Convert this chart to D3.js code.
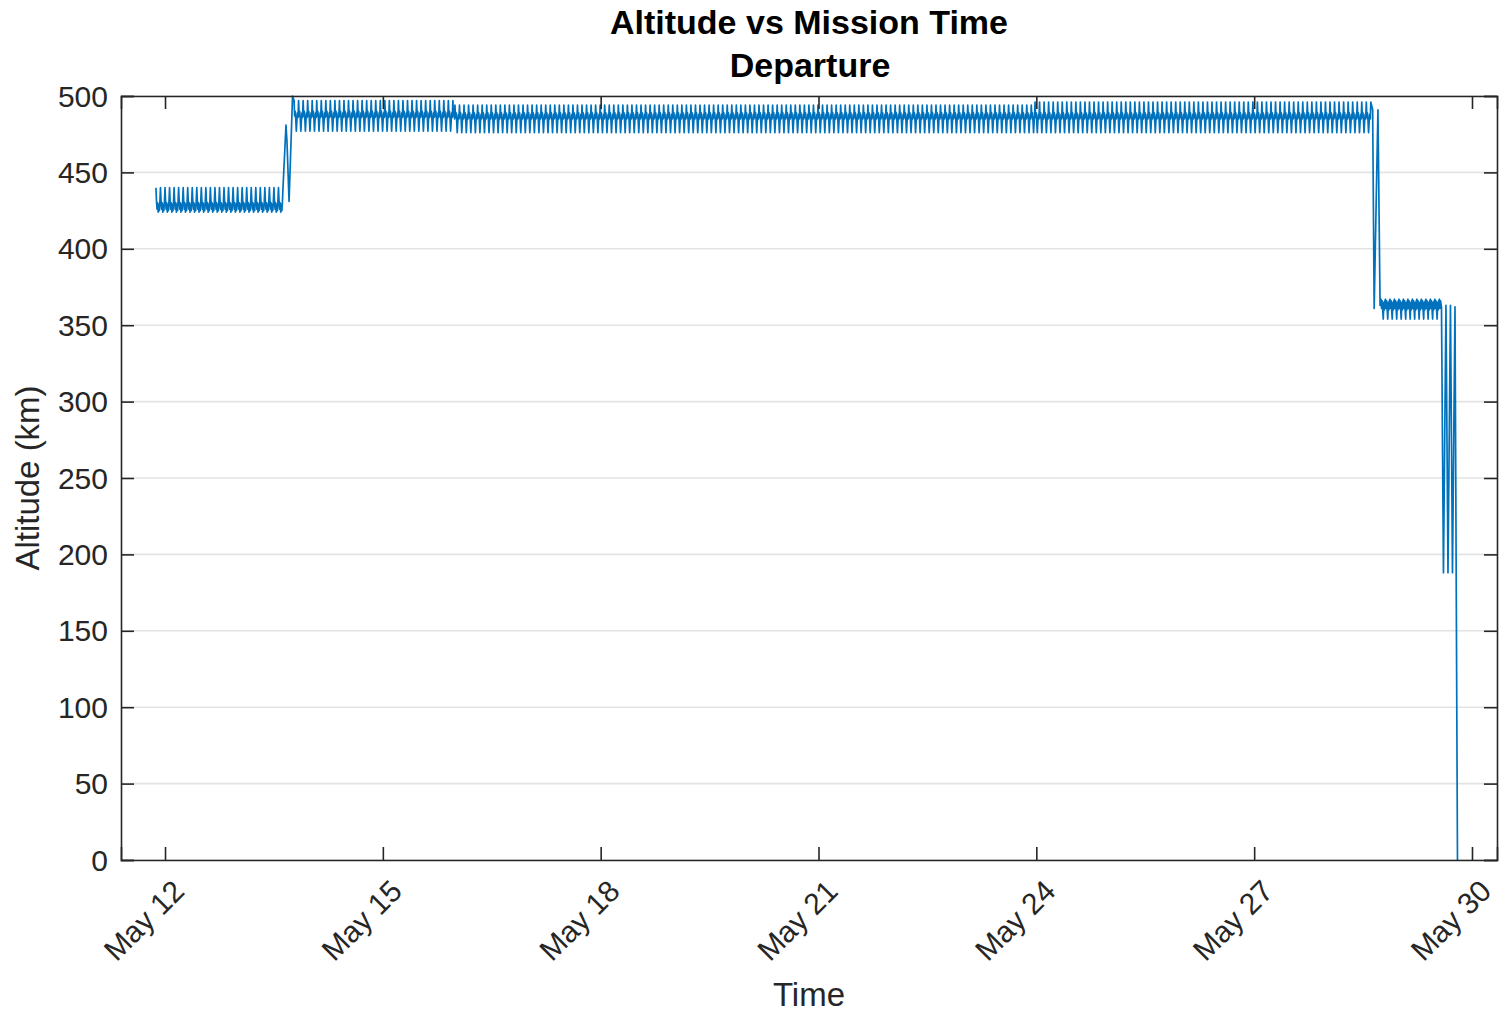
<!DOCTYPE html>
<html>
<head>
<meta charset="utf-8">
<script src="https://cdn.jsdelivr.net/npm/d3@7"></script>
<style>
  body { margin: 0; background: #fff; }
  text { font-family: Arial, "Liberation Sans", Helvetica, sans-serif; fill: #262626; }
</style>
</head>
<body>
<svg id="chart" width="1501" height="1015"></svg>
<script>
// ---- Orbit phases: time span, orbital period and altitude samples over one orbit (km)
const phaseStart = ["2024-05-11T21:00", "2024-05-13T18:39", "2024-05-15T23:50", "2024-05-23T23:34", "2024-05-28T17:56"];
const phaseEnd   = ["2024-05-13T15:00", "2024-05-15T23:50", "2024-05-23T23:34", "2024-05-28T14:38", "2024-05-29T13:46"];
const phasePeriodMin = [90, 90, 90, 90, 89];
const orbitAltitude1 = [440, 431, 426, 430, 424, 429, 425, 431];
const orbitAltitude2 = [497, 487, 490, 485, 477, 484, 489, 486];
const orbitAltitude3 = [494, 486, 489, 484, 476, 483, 488, 485];
const orbitAltitude4 = [496, 486, 489, 484, 476, 483, 488, 485];
const orbitAltitude5 = [367, 361, 366, 360, 354, 365, 360, 366];

// ---- Manoeuvres between phases and the final re-entry
const raiseTime      = ["2024-05-13T15:59", "2024-05-13T16:19", "2024-05-13T17:00", "2024-05-13T18:09"];
const raiseAltitude  = [481, 470, 431, 500];
const lowerTime      = ["2024-05-28T15:10", "2024-05-28T15:40", "2024-05-28T16:55", "2024-05-28T17:37"];
const lowerAltitude  = [491, 361, 491, 363];
const reentryTime    = ["2024-05-29T13:55", "2024-05-29T14:34", "2024-05-29T15:24", "2024-05-29T16:04",
                        "2024-05-29T16:53", "2024-05-29T17:33", "2024-05-29T18:23", "2024-05-29T19:12"];
const reentryAltitude = [362, 188, 363, 188, 363, 188, 362, 0];

// ---- Axis ticks
const dateTicks = ["2024-05-12", "2024-05-15", "2024-05-18", "2024-05-21", "2024-05-24", "2024-05-27", "2024-05-30"];
const dateTickLabels = ["May 12", "May 15", "May 18", "May 21", "May 24", "May 27", "May 30"];
const altitudeTicks = [0, 50, 100, 150, 200, 250, 300, 350, 400, 450, 500];
const timeLimits = ["2024-05-11T09:27", "2024-05-30T08:16"];

const parse = d3.timeParse("%Y-%m-%dT%H:%M");
const parseDay = d3.timeParse("%Y-%m-%d");

// Assemble the altitude track: each orbit phase repeats its per-orbit samples
function orbitSamples(i, profile) {
  const t0 = parse(phaseStart[i]).getTime(), t1 = parse(phaseEnd[i]).getTime();
  const period = phasePeriodMin[i] * 60000;
  const out = [];
  for (let k = 0; t0 + k * period <= t1; k++) {
    profile.forEach((alt, j) => {
      const t = t0 + (k + j / profile.length) * period;
      if (t <= t1) out.push({ t: new Date(t), alt });
    });
  }
  return out;
}
const pairs = (times, alts) => times.map((s, i) => ({ t: parse(s), alt: alts[i] }));

const track = [].concat(
  orbitSamples(0, orbitAltitude1),
  pairs(raiseTime, raiseAltitude),
  orbitSamples(1, orbitAltitude2),
  orbitSamples(2, orbitAltitude3),
  orbitSamples(3, orbitAltitude4),
  pairs(lowerTime, lowerAltitude),
  orbitSamples(4, orbitAltitude5),
  pairs(reentryTime, reentryAltitude)
);

// ---- Layout
const plot = { left: 121, right: 1497, top: 96, bottom: 860 };
const svg = d3.select("#chart");
const axisColor = "#262626";
const tickLen = 13;

const x = d3.scaleTime().domain(timeLimits.map(parse)).range([plot.left, plot.right]);
const y = d3.scaleLinear().domain([0, 500]).range([plot.bottom, plot.top]);

// Horizontal grid
svg.append("g").selectAll("line").data(altitudeTicks).join("line")
  .attr("x1", plot.left).attr("x2", plot.right)
  .attr("y1", d => y(d)).attr("y2", d => y(d))
  .attr("stroke", "#e3e3e3").attr("stroke-width", 1.6);

// Altitude trace
svg.append("defs").append("clipPath").attr("id", "plotClip")
  .append("rect").attr("x", plot.left).attr("y", plot.top - 2)
  .attr("width", plot.right - plot.left).attr("height", plot.bottom - plot.top + 2);

svg.append("path")
  .datum(track)
  .attr("clip-path", "url(#plotClip)")
  .attr("fill", "none")
  .attr("stroke", "#0072BD")
  .attr("stroke-width", 1.7)
  .attr("stroke-linejoin", "round")
  .attr("d", d3.line().x(d => x(d.t)).y(d => y(d.alt)));

// Axes with inward ticks on all four sides
const tickDates = dateTicks.map(parseDay);
const xBottom = d3.axisBottom(x).tickValues(tickDates).tickSize(-tickLen).tickFormat("");
const xTop = d3.axisTop(x).tickValues(tickDates).tickSize(-tickLen).tickFormat("");
const yLeft = d3.axisLeft(y).tickValues(altitudeTicks).tickSize(-tickLen).tickFormat("");
const yRight = d3.axisRight(y).tickValues(altitudeTicks).tickSize(-tickLen).tickFormat("");

function styleAxis(g) {
  g.selectAll("path.domain").attr("stroke", axisColor).attr("stroke-width", 1.6);
  g.selectAll(".tick line").attr("stroke", axisColor).attr("stroke-width", 1.6);
}
svg.append("g").attr("transform", `translate(0,${plot.bottom})`).call(xBottom).call(styleAxis);
svg.append("g").attr("transform", `translate(0,${plot.top})`).call(xTop).call(styleAxis);
svg.append("g").attr("transform", `translate(${plot.left},0)`).call(yLeft).call(styleAxis);
svg.append("g").attr("transform", `translate(${plot.right},0)`).call(yRight).call(styleAxis);

// Tick labels
svg.append("g").selectAll("text").data(altitudeTicks).join("text")
  .attr("x", plot.left - 13).attr("y", d => y(d))
  .attr("text-anchor", "end").attr("dominant-baseline", "central")
  .attr("font-size", 30).text(d => d);

svg.append("g").selectAll("text").data(tickDates).join("text")
  .attr("transform", d => `translate(${x(d) + 21},${plot.bottom + 33}) rotate(-45)`)
  .attr("text-anchor", "end")
  .attr("font-size", 30)
  .text((d, i) => dateTickLabels[i]);

// Axis titles
svg.append("text").attr("x", (plot.left + plot.right) / 2).attr("y", 1006)
  .attr("text-anchor", "middle").attr("font-size", 33).text("Time");
svg.append("text")
  .attr("transform", `translate(39,${(plot.top + plot.bottom) / 2}) rotate(-90)`)
  .attr("text-anchor", "middle").attr("font-size", 33).text("Altitude (km)");

// Chart title
const title = svg.append("text").attr("text-anchor", "middle").attr("font-size", 34)
  .attr("font-weight", "bold").style("fill", "#000");
title.append("tspan").attr("x", (plot.left + plot.right) / 2).attr("y", 34).text("Altitude vs Mission Time");
title.append("tspan").attr("x", (plot.left + plot.right) / 2 + 1).attr("y", 77).text("Departure");
</script>
</body>
</html>
